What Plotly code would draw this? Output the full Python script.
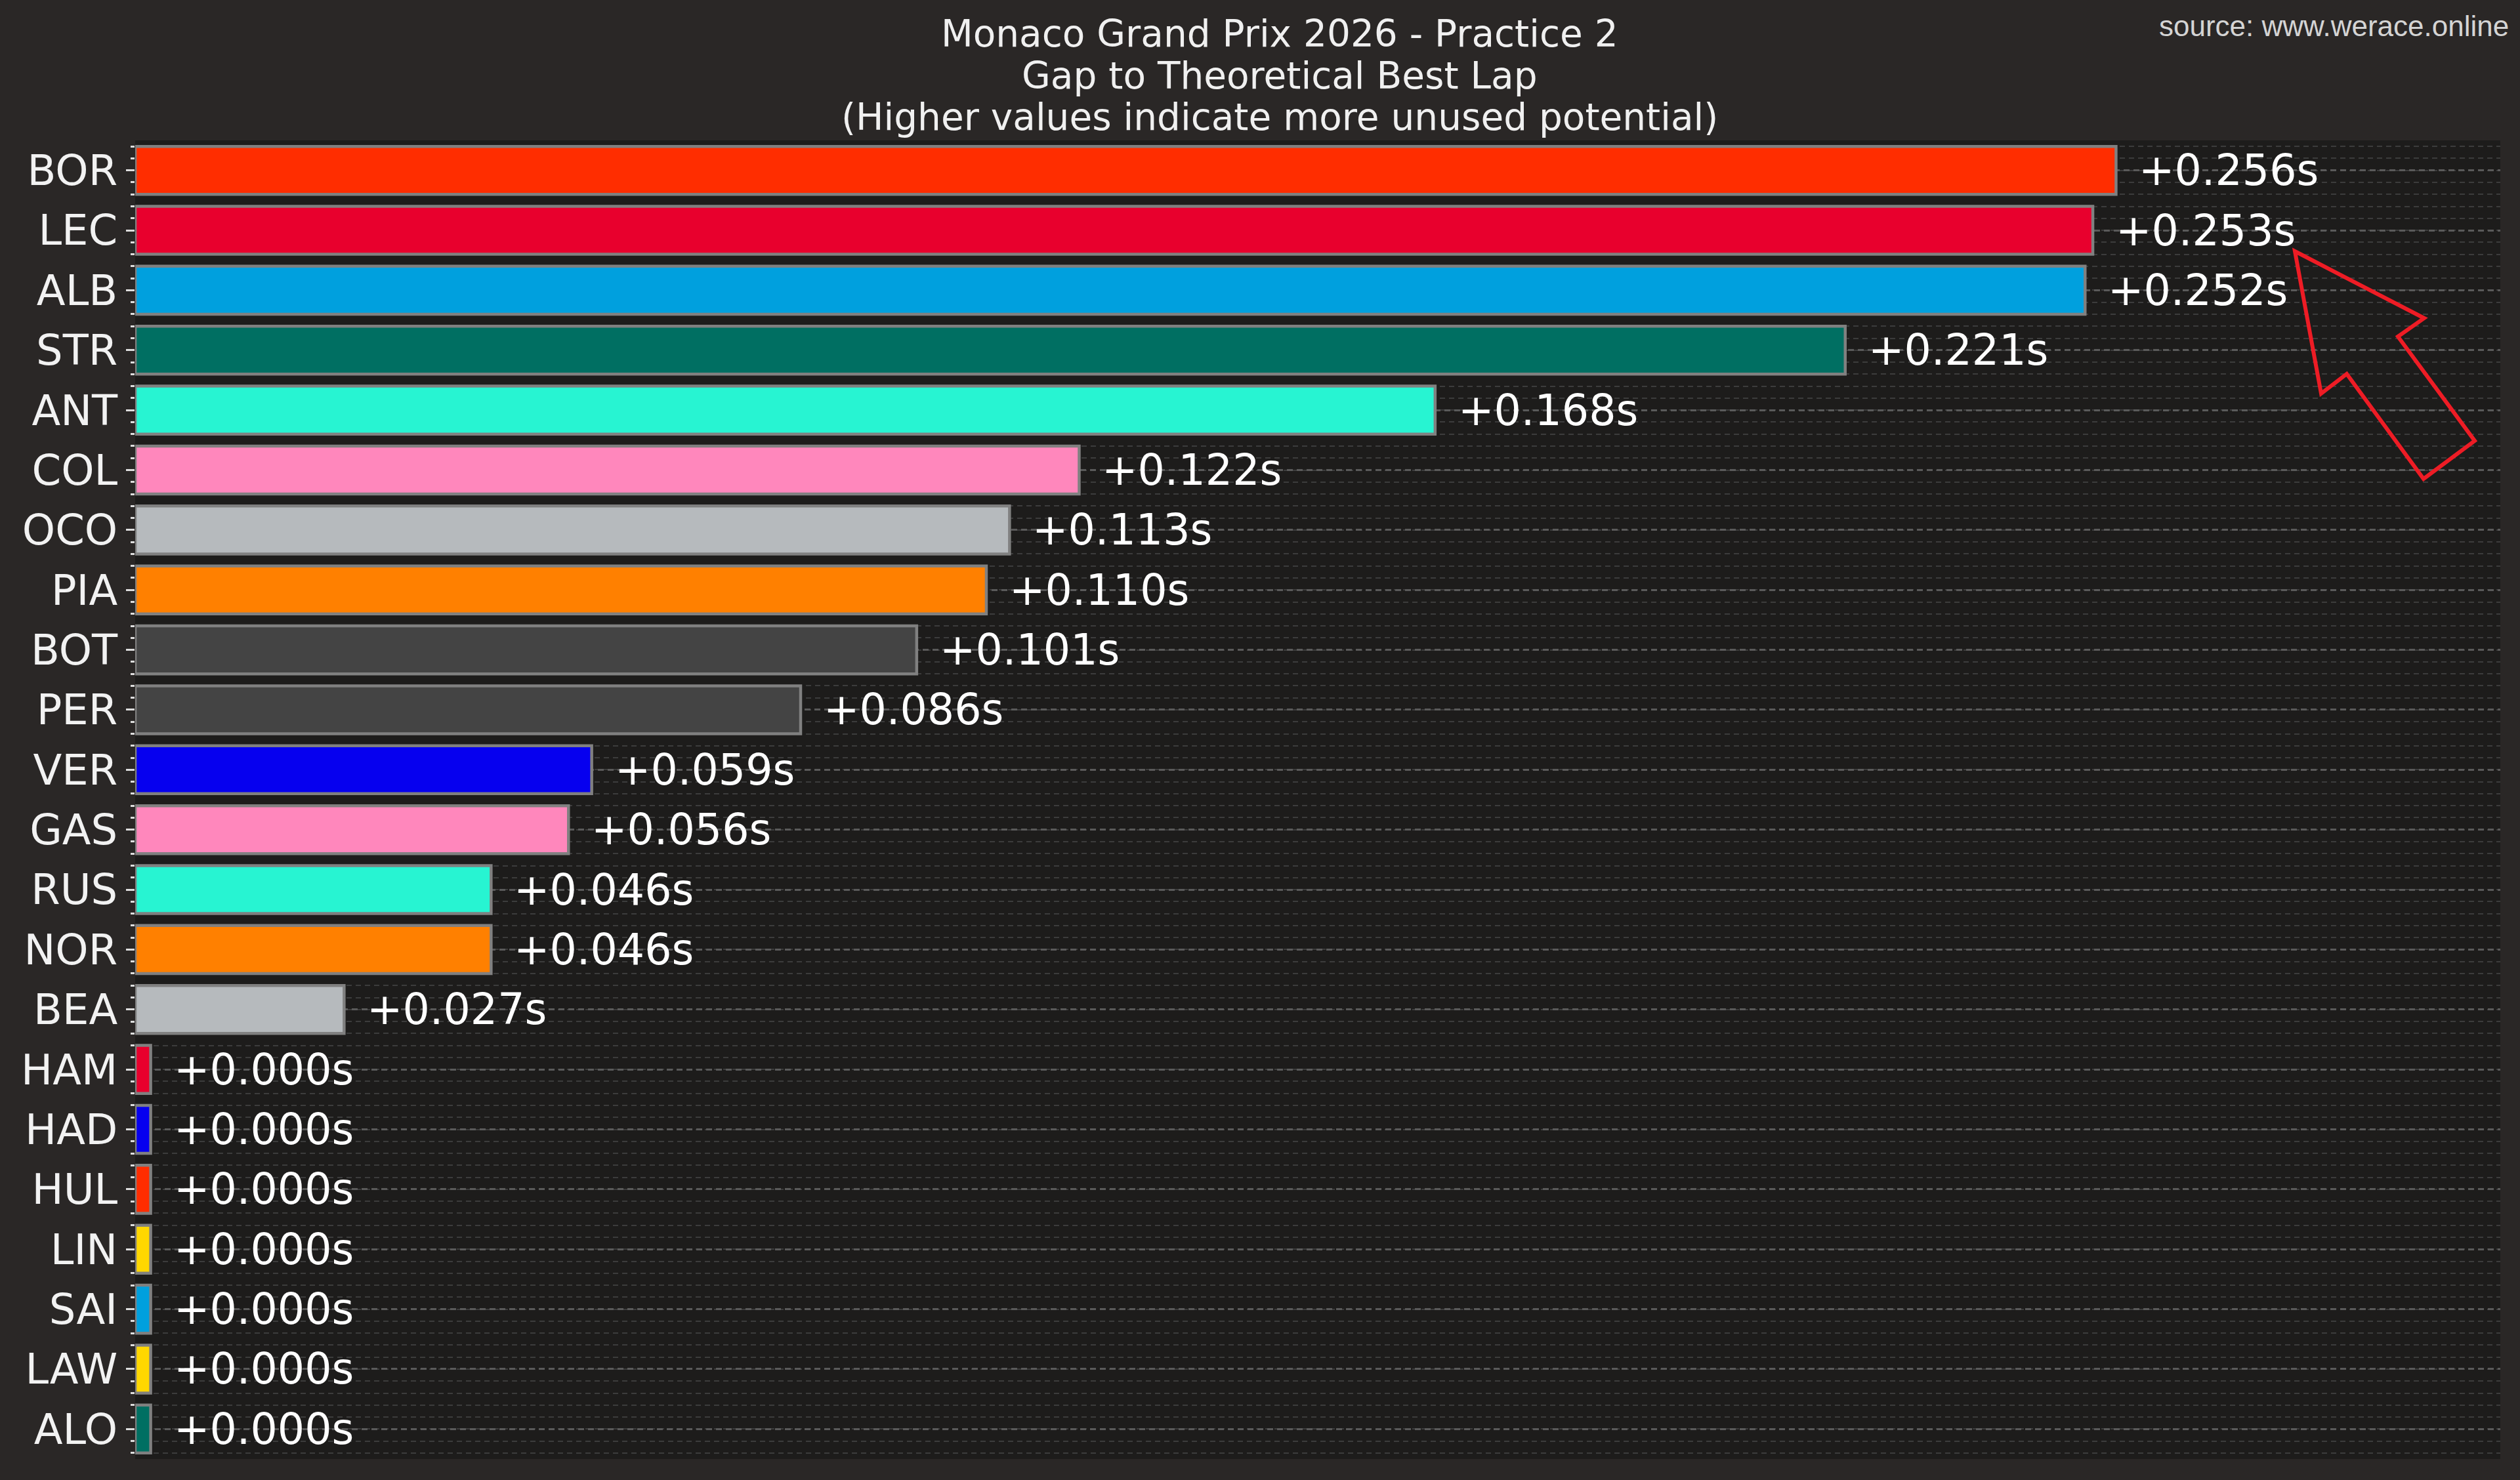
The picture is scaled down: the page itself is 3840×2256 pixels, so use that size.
import plotly.graph_objects as go

drivers = ["BOR", "LEC", "ALB", "STR", "ANT", "COL", "OCO", "PIA", "BOT", "PER", "VER",
           "GAS", "RUS", "NOR", "BEA", "HAM", "HAD", "HUL", "LIN", "SAI", "LAW", "ALO"]
gaps = [0.256, 0.253, 0.252, 0.221, 0.168, 0.122, 0.113, 0.110, 0.101, 0.086, 0.059,
        0.056, 0.046, 0.046, 0.027, 0.000, 0.000, 0.000, 0.000, 0.000, 0.000, 0.000]
colors = ["#ff2d00", "#e8002d", "#00a0de", "#006f62", "#27f4d2", "#ff87bc", "#b6babd",
          "#ff8000", "#444444", "#444444", "#0600ef", "#ff87bc", "#27f4d2", "#ff8000",
          "#b6babd", "#e8002d", "#0600ef", "#ff2d00", "#ffd700", "#00a0de", "#ffd700", "#006f62"]

title_lines = ["Monaco Grand Prix 2026 - Practice 2",
               "Gap to Theoretical Best Lap",
               "(Higher values indicate more unused potential)"]
source_text = "source: www.werace.online"

W, H = 3840, 2256
L, R, T, B = 206, 30, 214, 32
MIN_BAR = 0.002
LABEL_PAD = 0.0028
X_MAX_FACTOR = 1.194

def px(xp):
    return (xp - L) / (W - L - R)

def py(yp):
    return (H - B - yp) / (H - T - B)

pos = list(range(len(drivers)))
widths = [max(g, MIN_BAR) for g in gaps]

fig = go.Figure()
fig.add_trace(go.Bar(
    x=widths, y=pos, orientation="h", width=0.8,
    marker=dict(color=colors, line=dict(color="#808080", width=4.5)),
    hoverinfo="skip", showlegend=False,
))

annotations = []
for p, g, w in zip(pos, gaps, widths):
    annotations.append(dict(
        x=w + LABEL_PAD, y=p, xref="x", yref="y", text=f"+{g:.3f}s",
        showarrow=False, xanchor="left", yanchor="middle",
        font=dict(family="DejaVu Sans", size=65, color="#ffffff"),
    ))

title_y = [51, 115, 179]
for line, yy in zip(title_lines, title_y):
    annotations.append(dict(
        x=px(1950), y=py(yy), xref="paper", yref="paper", text=line,
        showarrow=False, xanchor="center", yanchor="middle",
        font=dict(family="DejaVu Sans", size=56.5, color="#f0f0f0"),
    ))

annotations.append(dict(
    x=px(3825), y=py(39), xref="paper", yref="paper", text=source_text,
    showarrow=False, xanchor="right", yanchor="middle",
    font=dict(family="Liberation Sans", size=44, color="#d4d4d4"),
))

arrow_px = [(3497, 383), (3694, 485), (3654, 513), (3771, 672),
            (3693, 730), (3576, 570), (3537, 600)]
path = "M " + " L ".join(f"{px(a):.5f},{py(b):.5f}" for a, b in arrow_px) + " Z"

fig.update_layout(
    width=W, height=H,
    margin=dict(l=L, r=R, t=T, b=B, pad=0),
    paper_bgcolor="#2a2726",
    plot_bgcolor="#1d1c1b",
    annotations=annotations,
    shapes=[dict(type="path", path=path, xref="paper", yref="paper",
                 line=dict(color="#ee1c25", width=6), fillcolor="rgba(0,0,0,0)")],
    xaxis=dict(range=[0, max(gaps) * X_MAX_FACTOR], showgrid=False, zeroline=False,
               showticklabels=False, ticks="", showline=False),
    yaxis=dict(
        range=[len(drivers) - 0.5, -0.5], tickmode="array", tickvals=pos, ticktext=drivers,
        ticks="outside", ticklen=13, tickwidth=3, tickcolor="#dddddd",
        tickfont=dict(family="DejaVu Sans", size=64, color="#f2f2f2"),
        showgrid=True, gridcolor="#5a5a5a", gridwidth=3, griddash="9px,6px",
        zeroline=False, showline=False,
        minor=dict(tickmode="linear", tick0=0, dtick=0.2, ticks="outside", ticklen=6,
                   tickwidth=3, tickcolor="#dddddd", showgrid=True,
                   gridcolor="#3c3c3c", gridwidth=1.8, griddash="8px,6px"),
    ),
    bargap=0.2,
)

fig.write_html("out.html")
